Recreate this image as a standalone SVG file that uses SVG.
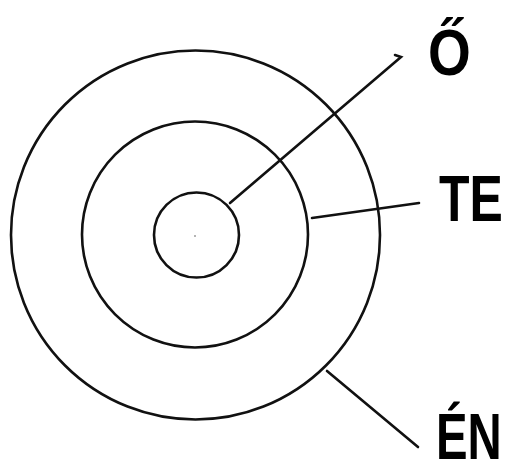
<svg xmlns="http://www.w3.org/2000/svg" width="510" height="462" viewBox="0 0 510 462">
<style>
.ring{fill:none;stroke:#111;stroke-width:2.6}
.conn{fill:none;stroke:#111;stroke-width:2.6;stroke-linecap:round}
.lbl{font-family:"Liberation Sans","Arial",sans-serif;font-weight:bold;font-size:64px;fill:#000}
</style>
<rect width="510" height="462" fill="#fff"/>
<g id="en"><circle class="ring" cx="195.5" cy="235" r="184.5"/></g>
<g id="te"><circle class="ring" cx="195" cy="234.5" r="113"/></g>
<g id="o"><circle class="ring" cx="196.5" cy="235" r="42.5"/><circle cx="195" cy="236" r="0.8" fill="#555"/></g>
<g id="connectors">
<path class="conn" d="M230 203 L401 57 L395 55"/>
<path class="conn" d="M312 218 L419 203"/>
<path class="conn" d="M327 371 L418 447"/>
</g>
<g id="labels">
<text class="lbl" transform="translate(428,75) scale(0.86,1)">Ő</text>
<text class="lbl" transform="translate(439,221) scale(0.78,1)">TE</text>
<text class="lbl" transform="translate(436,459) scale(0.74,1)">ÉN</text>
</g>
</svg>
